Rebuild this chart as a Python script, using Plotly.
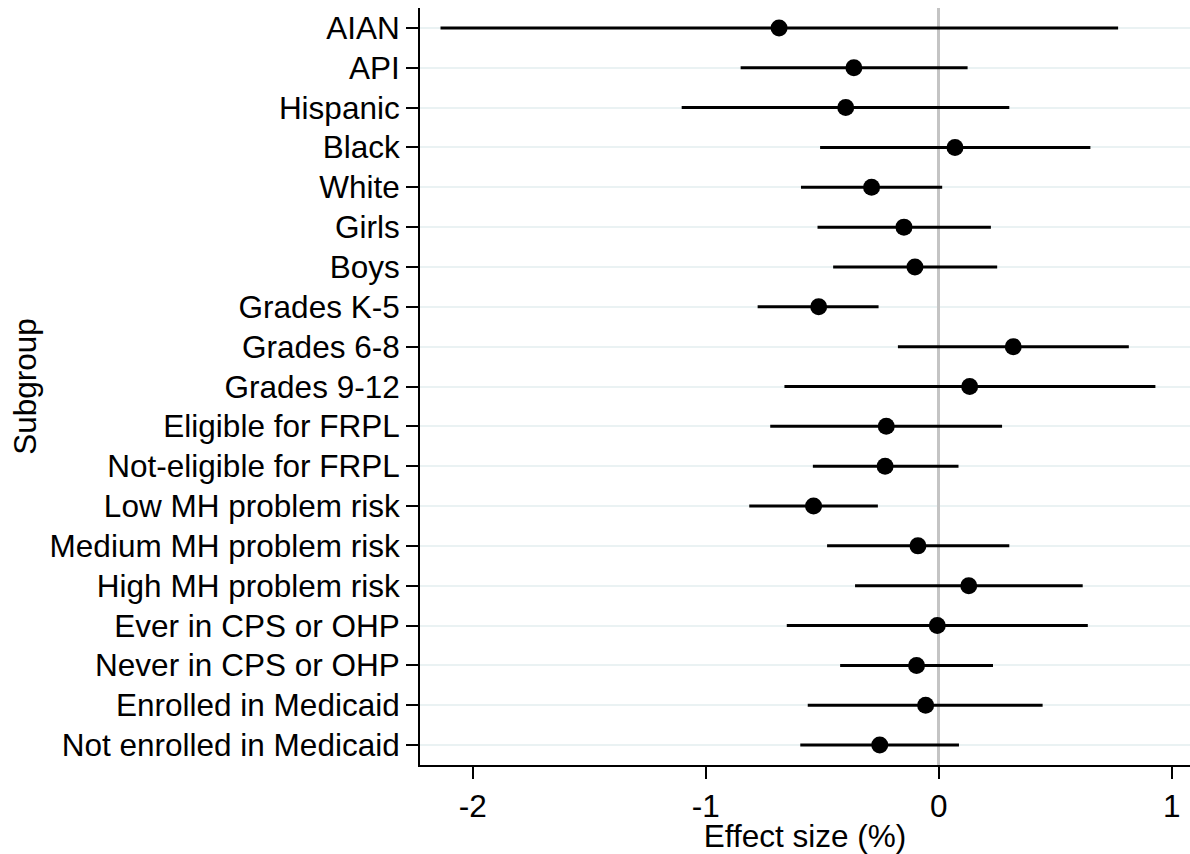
import plotly.graph_objects as go

subgroups = [
    "AIAN", "API", "Hispanic", "Black", "White", "Girls", "Boys",
    "Grades K-5", "Grades 6-8", "Grades 9-12", "Eligible for FRPL",
    "Not-eligible for FRPL", "Low MH problem risk", "Medium MH problem risk",
    "High MH problem risk", "Ever in CPS or OHP", "Never in CPS or OHP",
    "Enrolled in Medicaid", "Not enrolled in Medicaid",
]
estimate = [-0.685, -0.364, -0.399, 0.070, -0.288, -0.149, -0.102,
            -0.515, 0.320, 0.133, -0.225, -0.230, -0.537, -0.089,
            0.129, -0.006, -0.095, -0.056, -0.253]
ci_low = [-2.138, -0.850, -1.103, -0.509, -0.591, -0.520, -0.453,
          -0.777, -0.175, -0.662, -0.723, -0.540, -0.813, -0.479,
          -0.359, -0.652, -0.423, -0.562, -0.594]
ci_high = [0.770, 0.124, 0.303, 0.651, 0.015, 0.224, 0.251,
           -0.258, 0.816, 0.930, 0.272, 0.085, -0.261, 0.303,
           0.618, 0.640, 0.233, 0.446, 0.087]
x_ticks = [-2, -1, 0, 1]

FONT = "Liberation Sans, Arial, sans-serif"
FS = 31.5

fig = go.Figure()
fig.add_trace(go.Scatter(
    x=estimate,
    y=subgroups,
    mode="markers",
    marker=dict(color="black", size=17),
    error_x=dict(
        type="data",
        symmetric=False,
        array=[h - e for h, e in zip(ci_high, estimate)],
        arrayminus=[e - l for e, l in zip(estimate, ci_low)],
        color="black",
        thickness=3,
        width=0,
    ),
    showlegend=False,
))

fig.update_layout(
    width=1190,
    height=854,
    margin=dict(l=420, r=0, t=8, b=89),
    paper_bgcolor="white",
    plot_bgcolor="white",
    font=dict(family=FONT, size=FS, color="black"),
    xaxis=dict(
        range=[-2.226, 1.0785],
        tickvals=x_ticks,
        ticktext=[str(v) for v in x_ticks],
        showgrid=False,
        zeroline=True,
        zerolinecolor="#c4c4c4",
        zerolinewidth=3,
        showline=True,
        linecolor="black",
        linewidth=2,
        ticks="outside",
        ticklen=12,
        tickwidth=2,
        tickcolor="black",
        title=dict(text="Effect size (%)", font=dict(size=FS), standoff=2),
        tickfont=dict(size=FS),
    ),
    yaxis=dict(
        type="category",
        categoryorder="array",
        categoryarray=subgroups,
        range=[18.5, -0.5],
        showgrid=True,
        gridcolor="#eaf2f3",
        gridwidth=2,
        zeroline=False,
        showline=True,
        linecolor="black",
        linewidth=2,
        ticks="outside",
        ticklen=12,
        tickwidth=2,
        tickcolor="black",
        title=dict(text="Subgroup", font=dict(size=FS), standoff=4),
        tickfont=dict(size=FS),
    ),
)

fig.write_html("out.html")
